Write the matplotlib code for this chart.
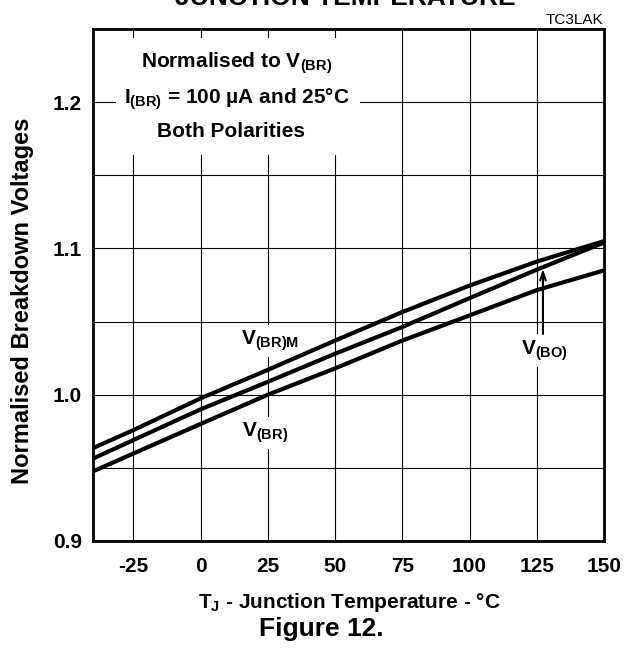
import matplotlib
matplotlib.use('Agg')
import matplotlib.pyplot as plt
from matplotlib.patches import Rectangle

# junction temperature (deg C) and normalised breakdown voltages
temps = [-40, -25, 0, 25, 50, 75, 100, 125, 150]
v_br_m = [0.9635, 0.9758, 0.9975, 1.017, 1.037, 1.0565, 1.0746, 1.091, 1.105]
v_bo = [0.9563, 0.969, 0.990, 1.0088, 1.028, 1.0463, 1.066, 1.0855, 1.104]
v_br = [0.9476, 0.9598, 0.980, 1.000, 1.018, 1.037, 1.0542, 1.0715, 1.085]

x_ticks = [-25, 0, 25, 50, 75, 100, 125, 150]
y_ticks = [0.9, 1.0, 1.1, 1.2]
x_grid = [-25, 0, 25, 50, 75, 100, 125]
y_grid = [0.95, 1.0, 1.05, 1.1, 1.15, 1.2]

plt.rcParams['font.family'] = ['Liberation Sans', 'DejaVu Sans']
plt.rcParams['mathtext.fontset'] = 'custom'
plt.rcParams['mathtext.rm'] = 'Liberation Sans:bold'
plt.rcParams['mathtext.bf'] = 'Liberation Sans:bold'
plt.rcParams['mathtext.it'] = 'Liberation Sans:bold'

fig = plt.figure(figsize=(6.36, 6.49), dpi=100)
ax = fig.add_axes([93 / 636, 1 - 541 / 649, 511 / 636, 512 / 649])

# grid lines
for gx in x_grid:
    ax.axvline(gx, color='black', lw=0.8, zorder=1)
for gy in y_grid:
    ax.axhline(gy, color='black', lw=0.8, zorder=1)

# white panel behind the condition text
ax.add_patch(Rectangle((0.045, 0.754), 0.477, 0.228, transform=ax.transAxes,
                       facecolor='white', edgecolor='none', zorder=1.8))

ax.plot(temps, v_br_m, color='black', lw=3, zorder=3, solid_capstyle='butt')
ax.plot(temps, v_bo, color='black', lw=3, zorder=3, solid_capstyle='butt')
ax.plot(temps, v_br, color='black', lw=3, zorder=3, solid_capstyle='butt')

ax.set_xlim(-40, 150)
ax.set_ylim(0.9, 1.25)
ax.set_xticks(x_ticks)
ax.set_xticklabels([str(t) for t in x_ticks])
ax.set_yticks(y_ticks)
ax.set_yticklabels(['%.1f' % t for t in y_ticks])
ax.tick_params(axis='x', length=0, pad=11.5, labelsize=15)
ax.tick_params(axis='y', length=0, pad=8, labelsize=15)
for lab in ax.get_xticklabels() + ax.get_yticklabels():
    lab.set_fontweight('bold')
for sp in ax.spines.values():
    sp.set_linewidth(2)
    sp.set_zorder(5)

# condition text
ax.text(0.282, 0.934, r'Normalised to $\mathbf{V_{(BR)}}$', transform=ax.transAxes,
        ha='center', va='center', fontsize=15, fontweight='bold', zorder=4)
ax.text(0.282, 0.863, r'$\mathbf{I_{(BR)}}$ = 100 µA and 25°C', transform=ax.transAxes,
        ha='center', va='center', fontsize=15, fontweight='bold', zorder=4)
ax.text(0.270, 0.799, 'Both Polarities', transform=ax.transAxes,
        ha='center', va='center', fontsize=15, fontweight='bold', zorder=4)

# curve labels (white box only hides the grid, curves stay on top)
white = dict(facecolor='white', edgecolor='none', pad=3)
ax.text(25.8, 1.0367, r'$\mathbf{V_{(BR)M}}$', ha='center', va='center',
        fontsize=15, bbox=white, zorder=2)
ax.text(24.1, 0.9738, r'$\mathbf{V_{(BR)}}$', ha='center', va='center',
        fontsize=15, bbox=white, zorder=2)
ax.text(128, 1.0303, r'$\mathbf{V_{(BO)}}$', ha='center', va='center',
        fontsize=15, bbox=white, zorder=2)
ax.annotate('', xy=(127.3, 1.086), xytext=(127.3, 1.0415),
            arrowprops=dict(arrowstyle='->,head_length=0.6,head_width=0.2',
                            lw=1.5, color='black', shrinkA=0, shrinkB=0), zorder=4)

fig.text(345 / 636, 1 - 5 / 649, 'JUNCTION TEMPERATURE', ha='center', va='baseline',
         fontsize=19, fontweight='bold')
fig.text(603 / 636, 1 - 24 / 649, 'TC3LAK', ha='right', va='baseline', fontsize=11)
fig.text(23 / 636, 1 - 301 / 649, 'Normalised Breakdown Voltages', rotation=90,
         ha='center', va='center', fontsize=17, fontweight='bold')
fig.text(349 / 636, 1 - 603 / 649, r'$\mathbf{T_J}$ - Junction Temperature - °C',
         ha='center', va='center', fontsize=15, fontweight='bold')
fig.text(321 / 636, 1 - 629 / 649, 'Figure 12.', ha='center', va='center',
         fontsize=19, fontweight='bold')

fig.savefig('out.png', dpi=100)
